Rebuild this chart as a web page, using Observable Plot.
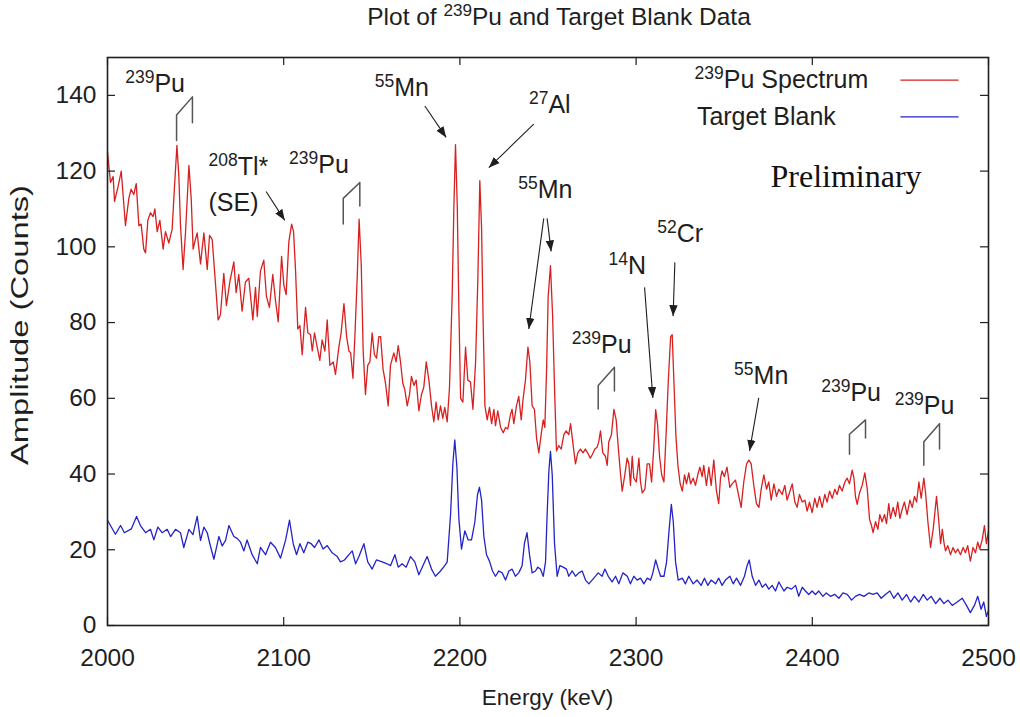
<!DOCTYPE html>
<html>
<head>
<meta charset="utf-8">
<script src="https://cdn.jsdelivr.net/npm/d3@7"></script>
<script src="https://cdn.jsdelivr.net/npm/@observablehq/plot@0.6"></script>
<style>
  html, body { margin: 0; padding: 0; background: #fff; }
  #chart svg { display: block; }
</style>
</head>
<body>
<div id="chart"></div>
<script>
// 239Pu spectrum: [energy (keV), counts]
const puSpectrum = [
  [2000,125],[2001.7,117],[2003.2,118.6],[2004,112],[2005.9,115.7],[2007.8,120],[2009.3,111],[2010.2,105.6],
  [2012.1,112.8],[2013.4,115.2],[2014.9,113.8],[2016.3,116.7],[2017.8,105.6],[2019.1,106],[2020.6,99.4],[2021.6,98.4],
  [2022.9,107],[2024.4,109],[2025.9,108],[2026.9,110],[2028.2,104],[2029.7,107],[2031.6,99.4],[2032.9,104],
  [2034.8,101],[2036.7,104.7],[2038,115.7],[2039.4,126.8],[2040.5,118.6],[2041.4,106],[2042.9,94],[2044.3,104],
  [2046.2,121.5],[2047.5,112.8],[2048.6,99.4],[2049.9,102],[2050.9,103.7],[2052.8,95.5],[2054.7,103.7],[2056.6,94],
  [2057.9,103],[2059.4,102],[2060.9,92.7],[2062.8,80.7],[2064.1,82],[2066,93],[2067.5,84.5],[2069.4,90.7],
  [2071.7,96],[2073,87.9],[2074.5,92.7],[2076.4,83],[2078.3,90.7],[2080.2,91.7],[2082.5,80.7],[2084,89.3],
  [2085,81.6],[2086.8,93.6],[2088.7,96.5],[2090.2,86.9],[2091.9,84],[2093.8,92.7],[2095.3,86],[2096.9,80.2],
  [2098.8,97.5],[2100.1,89.8],[2101.4,87.4],[2102.9,101.3],[2104.5,106],[2105.6,104],[2106.7,94],[2108,78.3],
  [2109.2,79.2],[2110.5,71.5],[2112.4,84],[2113.7,77.3],[2115.2,76.8],[2116.2,72.5],[2117.5,77.3],[2119,73.5],
  [2120.5,70],[2121.8,75.4],[2123.4,72.5],[2124.7,80.7],[2126.2,68.7],[2128.1,69.6],[2129.4,66.3],[2131.3,73.5],
  [2132.6,77.3],[2134.2,85],[2135.7,76.3],[2137,72.5],[2138,72],[2139.3,65.3],[2140.4,76.3],[2141.7,91.7],
  [2142.8,107.3],[2144,95.5],[2145.1,72.5],[2146.4,61],[2147.7,68.7],[2148.9,69.6],[2150.2,77.3],[2151.5,71.5],
  [2152.7,70.6],[2154,76.3],[2155,76.3],[2156.4,67.7],[2157.8,63.9],[2159.3,58],[2160.6,68.7],[2162.5,72],
  [2163.8,69.6],[2165,73.9],[2166.3,69.6],[2167.6,63.9],[2168.7,62.4],[2170.1,58],[2171.4,61],[2172.5,65.8],
  [2173.9,63.4],[2175.2,64.8],[2176.7,56.7],[2178.2,61],[2179.5,62.9],[2180.9,69.6],[2182.4,64.8],[2183.9,58],
  [2185.2,53.8],[2186.5,59],[2187.7,54.3],[2189,58],[2190.3,54.7],[2191.4,57.6],[2192.8,53.8],[2194.1,62.9],
  [2195.6,86.9],[2196.6,110.9],[2197.5,127],[2198.5,110.9],[2199.4,84],[2200.4,60],[2201.7,59],[2203.2,73.5],
  [2204.5,64.8],[2206,64.3],[2207.4,57.1],[2208.9,69.6],[2210.2,91.7],[2211.3,117.5],[2212.3,105],[2213.2,80],
  [2214.2,58],[2215.5,54.3],[2216.8,57.6],[2218,53.3],[2219.3,57.1],[2220.2,52.8],[2221.5,56.7],[2223.1,52.3],
  [2224.6,50.9],[2225.9,52.3],[2227.2,51.9],[2228.7,55.7],[2229.6,57.1],[2230.6,53.3],[2232.1,58],[2233.4,60.5],
  [2234.8,54.3],[2235.9,60],[2237.2,64.8],[2238.6,73.5],[2239.7,69.6],[2241,58],[2242.3,57.1],[2243.5,49.5],
  [2244.8,45.6],[2246.1,50.4],[2247.3,54.3],[2248.2,52.3],[2249.2,67.7],[2250.1,86.9],[2251.4,95],[2252.6,82],
  [2253.7,62.9],[2254.8,46.1],[2256.1,47.5],[2257.5,46.6],[2259,50.4],[2260.3,51.4],[2261.8,50.4],[2262.8,53.3],
  [2264.3,47.5],[2265.6,42.7],[2266.9,45.6],[2268.4,46.6],[2269.9,45.6],[2271.2,46.6],[2272.5,45.6],[2274,44.2],
  [2275.1,45.1],[2276.6,46.6],[2277.9,47.1],[2278.8,48.5],[2279.8,51.4],[2281.1,45.6],[2282.6,44.7],[2283.6,42.3],
  [2284.5,48.5],[2286,50.4],[2287.4,57.1],[2288.7,54.3],[2289.8,47.5],[2291.1,40.3],[2292.1,35.5],[2293.6,39.8],
  [2294.9,44.2],[2295.9,42.7],[2296.8,37],[2297.8,44.7],[2298.7,38.9],[2300.1,37.9],[2301.6,44.2],[2302.5,37.9],
  [2303.5,35],[2305,36],[2306.3,42.7],[2307.6,42.7],[2308.8,37.9],[2310.1,47.5],[2311.1,57],[2312.2,53],
  [2313.3,44.7],[2314.5,39.8],[2315.8,37.9],[2317.1,51.4],[2318.2,63.9],[2319.6,76.3],[2320.5,76.8],[2321.5,64],
  [2322.6,50],[2323.8,42],[2325,37.5],[2326.2,35.5],[2327.5,39.8],[2328.6,37.4],[2329.9,40.3],[2330.9,37.4],
  [2332.4,38.9],[2333.7,37],[2335,39.8],[2336.2,41.8],[2337.5,39.3],[2338.4,42.3],[2339.9,37],[2341.3,41.8],
  [2342.6,37],[2344.1,43.7],[2345.6,35.5],[2346.9,32.2],[2347.9,38.9],[2348.8,40.8],[2350.1,39.3],[2351.6,41.8],
  [2353.2,36.5],[2354.5,37.4],[2356.4,38.4],[2358.3,34.1],[2359.6,31.2],[2361.1,37.9],[2362.7,42.7],[2364,43.7],
  [2365.3,42.7],[2366.8,37],[2368.3,32.2],[2369.7,31.2],[2371,36],[2372.5,39.8],[2374,36],[2375.3,37.9],
  [2376.7,33.1],[2378.2,37.4],[2379.7,34.1],[2381,36],[2382.9,34.6],[2384.4,37],[2385.7,33.1],[2387,35],
  [2388.6,37.4],[2390.1,32.6],[2391.4,31.2],[2392.7,34.6],[2394.3,32.6],[2395.8,33.1],[2397.1,30.2],[2398.4,32.6],
  [2399.9,29.8],[2401.4,33.6],[2402.7,31.2],[2404.1,34.1],[2405.6,31.2],[2407.1,34.6],[2408.4,32.6],[2409.8,35.5],
  [2411.3,33.6],[2412.8,36],[2414.1,34.6],[2415.4,37],[2416.9,35.5],[2418.5,37.9],[2419.8,38.9],[2421.1,37.4],
  [2422.6,41],[2423.6,39],[2424.5,34],[2425.5,32],[2426.8,35],[2428.3,37],[2429.8,40.3],[2431.2,36],
  [2432.5,28],[2433.6,26.4],[2434.5,24.5],[2435.9,27.4],[2437.2,25.4],[2438.3,29.3],[2439.6,27.4],[2441,29.3],
  [2442.1,26.9],[2443.4,32.2],[2444.4,28.3],[2445.9,31.2],[2447.2,28.8],[2448.5,32.6],[2449.7,28.3],[2451,30.7],
  [2452.3,32.6],[2453.8,29.3],[2455.4,33.1],[2456.7,31.2],[2458,34.1],[2459.2,32.6],[2460.5,37.9],[2461.8,33.6],
  [2463.3,38.9],[2464.3,35],[2465.6,27.4],[2467.1,20.6],[2468.6,25.4],[2470.5,34.1],[2471.7,28],[2472.8,21.6],
  [2473.8,25.4],[2474.8,21.6],[2475.6,19.7],[2476.9,21.1],[2478.4,18.7],[2479.9,20.6],[2481.2,19.2],[2482.6,20.2],
  [2484.1,18.7],[2485.6,20.6],[2486.9,19.2],[2488.2,21.1],[2489.7,17],[2491.2,20.6],[2492.6,19.2],[2493.9,22],
  [2495,20.2],[2496.4,22.6],[2497.7,26.4],[2498.8,21.6],[2500,25]
];

// Target blank: [energy (keV), counts]
const targetBlank = [
  [2000,27.8],[2004.5,24.1],[2007.4,26.4],[2009.6,24.5],[2013.5,25.5],[2016.5,28.8],[2018.7,26.4],[2021.6,24.5],
  [2024.4,25.4],[2026.3,22.6],[2028.6,26],[2031,24.5],[2033.9,25.4],[2035.8,23.5],[2038.6,25.4],[2041.4,24.5],
  [2043.3,20.6],[2046.2,25.4],[2048.5,24],[2050.9,28.8],[2052.8,22.5],[2054.7,26],[2056.6,24.5],[2058.4,21],
  [2060.4,17.5],[2063.2,23.5],[2065.1,21],[2067,22.5],[2068.9,26.4],[2071.7,23.5],[2073.6,23],[2075.5,22],
  [2077.4,19.7],[2079.2,22.6],[2082.1,18.7],[2085,16.3],[2086.8,20.6],[2089.7,18.7],[2092.5,22],[2095.3,20.6],
  [2098.2,17.8],[2101.1,22.6],[2103.3,27.8],[2105.4,21.6],[2107.3,18.7],[2109.2,21.6],[2111.4,19.2],[2113.7,22],
  [2115.6,21.6],[2117.5,20.6],[2120,22.6],[2122.4,20.2],[2124.7,21.1],[2127.5,19.2],[2130.4,18.2],[2132.2,16.8],
  [2134.5,17.3],[2137,18.7],[2138.9,19.7],[2140.8,16.3],[2142.7,18.2],[2145.5,21.6],[2147.7,16.8],[2150.2,14.9],
  [2152.6,17.3],[2155.9,16.8],[2158.7,16.3],[2160.6,15.8],[2163.1,18.7],[2165,15.4],[2167.2,16.3],[2169.5,15.4],
  [2172,18.2],[2174.4,16.8],[2176.7,13.4],[2179,15.8],[2181.4,18.2],[2183.9,14.9],[2186.1,13],[2189,14.4],
  [2191.4,15.8],[2192.8,16.8],[2194.7,29.3],[2196,42.7],[2197.1,49],[2198.3,41.8],[2199.4,28.3],[2200.9,20.2],
  [2202.8,25],[2204.7,22.6],[2206.6,22.6],[2208.5,27.4],[2210,34.6],[2211.1,36.5],[2212.3,33.1],[2213.6,23.5],
  [2215.1,18.7],[2216.8,17],[2218.5,14.4],[2220.2,13],[2222.1,14.4],[2224,13.9],[2225.9,12],[2227.8,14.4],
  [2229.6,14.9],[2231.5,13],[2233.4,13.9],[2235.3,15.8],[2236.6,21.6],[2238.1,24.5],[2239.5,18.7],[2241,13.9],
  [2242.9,14.4],[2244.2,15.4],[2245.7,14.9],[2247.3,13],[2248.6,16.8],[2249.5,29.3],[2250.5,40.8],[2251.4,46],
  [2252.4,39.8],[2253.7,21.6],[2255.2,13],[2256.7,15.8],[2258.6,15.4],[2260.5,14.9],[2261.8,13],[2263.7,14.4],
  [2265.6,13],[2267.5,13.9],[2269.4,14.4],[2271.3,12],[2273.2,11],[2276,12.5],[2278.5,13.9],[2280.7,13],
  [2282.3,14.9],[2284.2,13],[2286.4,11.5],[2288.3,13],[2290.2,11],[2292.5,13.9],[2295,13],[2296.8,11],
  [2298.7,13],[2300.6,12],[2302.5,12.5],[2304.4,11],[2306.3,12.5],[2308.2,12],[2309.5,13.9],[2311.1,17.3],
  [2312.6,14.9],[2313.9,13],[2315.8,13],[2317.3,16.8],[2318.6,24.5],[2320,32],[2321.1,27.4],[2322.4,16.8],
  [2323.9,12],[2326.2,12.5],[2328,11],[2329.9,13],[2332.4,11],[2334.6,12],[2336.9,10.6],[2338.8,12.5],
  [2340.7,10.6],[2342.6,12],[2345.1,11],[2346.9,12.5],[2348.8,10.6],[2350.7,12],[2353.2,13],[2355.1,11],
  [2357,12.5],[2359.3,10.6],[2361.5,13],[2363,15.8],[2364.2,17.3],[2365.9,13],[2367.8,10.6],[2369.7,12],
  [2371.6,10.1],[2373.5,11],[2375.3,9.6],[2377.2,10.6],[2379.1,9.1],[2381,11.5],[2383.9,9.1],[2385.7,10.1],
  [2388.2,9.6],[2390.5,10.6],[2392.3,7.7],[2394.3,10.1],[2396.1,9.1],[2398,8.2],[2399.9,9.1],[2401.8,8.2],
  [2403.7,9.1],[2406,7.7],[2407.9,8.6],[2410.3,7.7],[2412.8,8.2],[2415.1,7.2],[2417.4,8.6],[2419.8,8.2],
  [2422.3,6.7],[2424.5,7.7],[2426.8,8.2],[2429.3,7.7],[2432.1,8.6],[2434.4,8.2],[2436.8,8.6],[2439.1,7.2],
  [2441.5,8.2],[2444,9.1],[2446.3,7.2],[2448.6,8.6],[2451,6.7],[2453.5,8.2],[2455.8,6.2],[2458,7.7],
  [2460.5,6.2],[2463,8.2],[2465.2,6.7],[2467.5,7.7],[2470,5.8],[2472.4,7.2],[2474.7,5.8],[2477,6.7],
  [2479.4,5.3],[2482.2,6.2],[2485.1,7.2],[2487.5,5.3],[2489.7,3.4],[2492,5.3],[2493.9,7.7],[2495.8,4.3],
  [2497.3,6.2],[2498.8,2.4],[2500,4]
];

const energyTicks = [2000, 2100, 2200, 2300, 2400, 2500];
const countTicks = [0, 20, 40, 60, 80, 100, 120, 140];

// Isotope labels ("^nnn" marks a mass-number superscript)
const centredLabels = [
  {e: 2027, c: 143, text: "^239Pu"},
  {e: 2120, c: 121.5, text: "^239Pu"},
  {e: 2167, c: 142, text: "^55Mn"},
  {e: 2251, c: 137.5, text: "^27Al"},
  {e: 2248.5, c: 115, text: "^55Mn"},
  {e: 2280.5, c: 74, text: "^239Pu"},
  {e: 2295, c: 95, text: "^14N"},
  {e: 2325, c: 103.5, text: "^52Cr"},
  {e: 2371, c: 66, text: "^55Mn"},
  {e: 2422, c: 61.5, text: "^239Pu"},
  {e: 2463.7, c: 58, text: "^239Pu"}
];
const leftLabels = [
  {e: 2057.3, c: 121, text: "^208Tl*"},
  {e: 2057.3, c: 111.5, text: "(SE)"}
];

// Arrows from a label to its peak
const arrows = [
  {e1: 2090, c1: 114.6, e2: 2100.6, c2: 107},
  {e1: 2180.1, c1: 137.2, e2: 2192.2, c2: 128.9},
  {e1: 2241.9, c1: 132.4, e2: 2216.4, c2: 120.9},
  {e1: 2247.6, c1: 107.5, e2: 2239.1, c2: 78.3},
  {e1: 2249.5, c1: 107.5, e2: 2251.8, c2: 98.8},
  {e1: 2304.8, c1: 89.3, e2: 2309.5, c2: 60.1},
  {e1: 2322, c1: 95.9, e2: 2321, c2: 81.7},
  {e1: 2369.6, c1: 60.1, e2: 2364.4, c2: 46.1}
];

// Doublet brackets over the 239Pu line pairs
const doublets = [
  [[2039.2,128.1],[2039.2,134.8],[2048.2,139.6],[2048.2,132.8]],
  [[2133.8,106],[2133.8,112.8],[2143.2,117],[2143.2,110.8]],
  [[2278.5,57.2],[2278.5,63.4],[2287.7,68.2],[2287.7,61.9]],
  [[2421.1,45.2],[2421.1,50.5],[2430.2,54.3],[2430.2,49.5]],
  [[2463.3,42.3],[2463.3,48.5],[2472.2,53.3],[2472.2,46.6]]
];
const doubletPoints = doublets.flatMap((pts, id) => pts.map(([e, c]) => ({id, e, c})));

const legendEntries = [
  {text: "^239Pu Spectrum", e: 2333.2, c: 144, e1: 2450, e2: 2483},
  {text: "Target Blank", e: 2334.5, c: 134.3, e1: 2450, e2: 2483}
];

const RED = "#d82020", BLUE = "#2323c8", INK = "#1e1e1e";
const FONT = "'Liberation Sans', Arial, sans-serif";
const FS = 25;

// Filled triangular arrowhead
function filledHead(color) {
  const m = d3.create("svg:marker")
    .attr("viewBox", "-11 -5 11 10")
    .attr("markerWidth", 11).attr("markerHeight", 10)
    .attr("markerUnits", "userSpaceOnUse")
    .attr("orient", "auto")
    .attr("fill", color).attr("stroke", "none");
  m.append("path").attr("d", "M-11,-4.2L0,0L-11,4.2Z");
  return m.node();
}

const frameW = 1020 - 107 - 32, frameH = 717 - 57 - 92, tick = 8;

const chart = Plot.plot({
  width: 1020,
  height: 717,
  marginLeft: 107, marginRight: 32, marginTop: 57, marginBottom: 92,
  style: {fontFamily: FONT, fontSize: `${FS}px`, color: INK, background: "#fff", overflow: "visible"},
  x: {domain: [2000, 2500]},
  y: {domain: [0, 150]},
  marks: [
    Plot.line(targetBlank, {x: d => d[0], y: d => d[1], stroke: BLUE, strokeWidth: 1.3}),
    Plot.line(puSpectrum, {x: d => d[0], y: d => d[1], stroke: RED, strokeWidth: 1.3}),
    Plot.line(doubletPoints, {x: "e", y: "c", z: "id", stroke: "#555", strokeWidth: 1.5}),
    Plot.link(arrows, {x1: "e1", y1: "c1", x2: "e2", y2: "c2", stroke: INK, strokeWidth: 1.1, markerEnd: filledHead}),
    Plot.text(centredLabels, {x: "e", y: "c", text: "text", fill: INK, fontSize: FS}),
    Plot.text(leftLabels, {x: "e", y: "c", text: "text", textAnchor: "start", fill: INK, fontSize: FS}),
    Plot.text(legendEntries, {x: "e", y: "c", text: "text", textAnchor: "start", fill: INK, fontSize: FS}),
    Plot.link([legendEntries[0]], {x1: "e1", x2: "e2", y1: "c", y2: "c", stroke: RED, strokeWidth: 1.3}),
    Plot.link([legendEntries[1]], {x1: "e1", x2: "e2", y1: "c", y2: "c", stroke: BLUE, strokeWidth: 1.3}),
    Plot.text(["Preliminary"], {x: 2376.3, y: 118.6, text: d => d, textAnchor: "start", fontFamily: "'Liberation Serif', 'Times New Roman', serif", fontSize: 32, fill: "#111"}),
    // inward ticks on all four sides
    Plot.tickX(energyTicks, {x: d => d, insetTop: frameH - tick, stroke: INK, strokeWidth: 1.2}),
    Plot.tickX(energyTicks, {x: d => d, insetBottom: frameH - tick, stroke: INK, strokeWidth: 1.2}),
    Plot.tickY(countTicks, {y: d => d, insetRight: frameW - tick, stroke: INK, strokeWidth: 1.2}),
    Plot.tickY(countTicks, {y: d => d, insetLeft: frameW - tick, stroke: INK, strokeWidth: 1.2}),
    Plot.axisX({ticks: energyTicks, tickFormat: "d", tickSize: 0, tickPadding: 23, label: null, fontSize: 24.5, fill: INK}),
    Plot.axisY({ticks: countTicks, tickFormat: "d", tickSize: 0, tickPadding: 11, label: null, fontSize: 24.5, fill: INK}),
    Plot.frame({stroke: INK, strokeWidth: 1.6})
  ]
});

document.getElementById("chart").append(chart);

const svg = d3.select(chart);
const cx = 107 + frameW / 2;

svg.append("text")
  .attr("x", 559).attr("y", 25)
  .attr("text-anchor", "middle")
  .attr("font-family", FONT).attr("font-size", 24.5).attr("fill", INK)
  .text("Plot of ^239Pu and Target Blank Data");

svg.append("text")
  .attr("x", cx).attr("y", 705)
  .attr("text-anchor", "middle")
  .attr("font-family", FONT).attr("font-size", 22.5).attr("fill", INK)
  .text("Energy (keV)");

svg.append("text")
  .attr("transform", "translate(28,325) rotate(-90)")
  .attr("text-anchor", "middle")
  .attr("font-family", FONT).attr("font-size", 23).attr("fill", INK)
  .attr("textLength", 280).attr("lengthAdjust", "spacingAndGlyphs")
  .text("Amplitude (Counts)");

// Turn "^nnn" into raised, smaller mass numbers
svg.selectAll("text").each(function () {
  const m = /^(.*?)\^(\d+)(.*)$/.exec(this.textContent);
  if (!m) return;
  const fs = parseFloat(getComputedStyle(this).fontSize) || FS;
  const rise = (0.36 * fs).toFixed(1);
  const t = d3.select(this);
  t.text(null);
  if (m[1]) t.append("tspan").text(m[1]);
  t.append("tspan").attr("font-size", (0.7 * fs).toFixed(1)).attr("dy", -rise).text(m[2]);
  t.append("tspan").attr("dy", rise).text(m[3]);
});
</script>
</body>
</html>
